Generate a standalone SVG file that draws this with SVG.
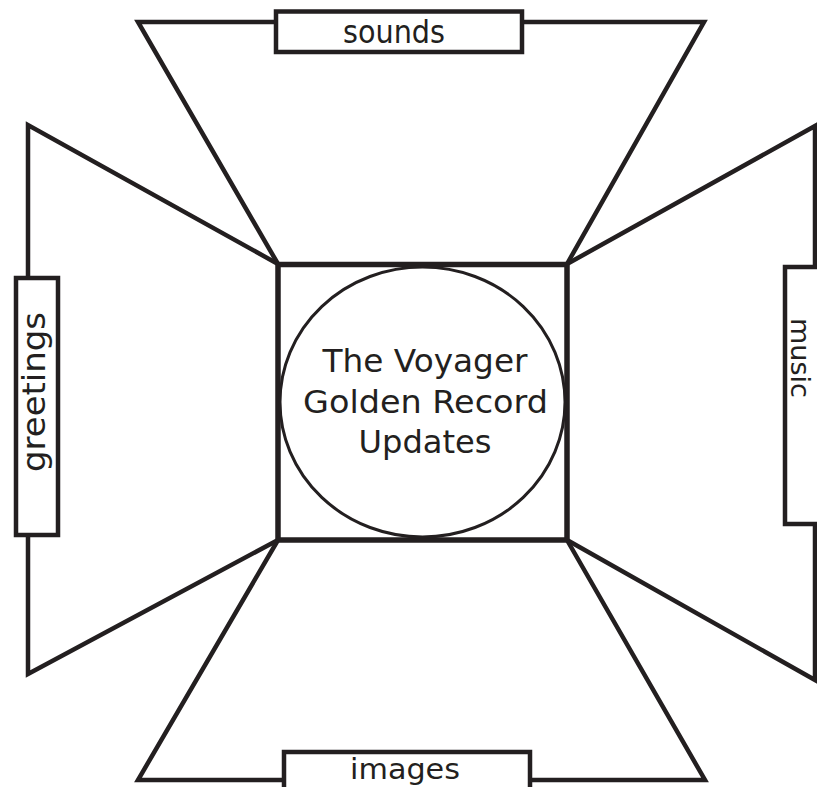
<svg xmlns="http://www.w3.org/2000/svg" width="817" height="787" viewBox="0 0 817 787">
<style>
.ln{fill:none;stroke:#231f20;stroke-width:4.5;stroke-linejoin:miter}
.bx{fill:#fff;stroke:#231f20;stroke-width:4.5}
.lb{font-family:"DejaVu Sans",sans-serif;font-size:32px;fill:#231f20;text-anchor:middle}
.ct{font-family:"DejaVu Sans",sans-serif;font-size:32.5px;fill:#231f20;text-anchor:middle}
</style>
<rect width="817" height="787" fill="#fff"/>
<g id="connectors">
<polyline class="ln" points="278,264 138,22 704,22 567,264"/>
<polyline class="ln" points="278,264 28,125 28,674 278,540"/>
<polyline class="ln" points="567,264 815,126 815,680 567,540"/>
<polyline class="ln" points="278,540 138,780 705,780 567,540"/>
</g>
<g id="center">
<rect x="278" y="264.5" width="289" height="275.5" fill="#fff" stroke="#231f20" stroke-width="5.5"/>
<ellipse cx="422.5" cy="402" rx="142.5" ry="135" fill="#fff" stroke="#231f20" stroke-width="3"/>
<text class="ct" x="425" y="372" textLength="205" lengthAdjust="spacingAndGlyphs">The Voyager</text>
<text class="ct" x="425.5" y="413" textLength="245" lengthAdjust="spacingAndGlyphs">Golden Record</text>
<text class="ct" x="425" y="453" textLength="133" lengthAdjust="spacingAndGlyphs">Updates</text>
</g>
<g id="sounds">
<rect class="bx" x="276" y="11.5" width="246" height="40.5"/>
<text class="lb" x="394" y="43" textLength="102" lengthAdjust="spacingAndGlyphs">sounds</text>
</g>
<g id="greetings">
<rect class="bx" x="16" y="278" width="42" height="257"/>
<text class="lb" transform="translate(45,392) rotate(-90)" x="0" y="0" textLength="160" lengthAdjust="spacingAndGlyphs">greetings</text>
</g>
<g id="music">
<rect class="bx" x="785" y="267" width="45" height="257"/>
<text class="lb" style="font-size:26px" transform="translate(791,358) rotate(90)" x="0" y="0" textLength="80" lengthAdjust="spacingAndGlyphs">music</text>
</g>
<g id="images">
<rect class="bx" x="284" y="752" width="246" height="50"/>
<text class="lb" style="font-size:29px" x="405" y="779" textLength="110" lengthAdjust="spacingAndGlyphs">images</text>
</g>
</svg>
